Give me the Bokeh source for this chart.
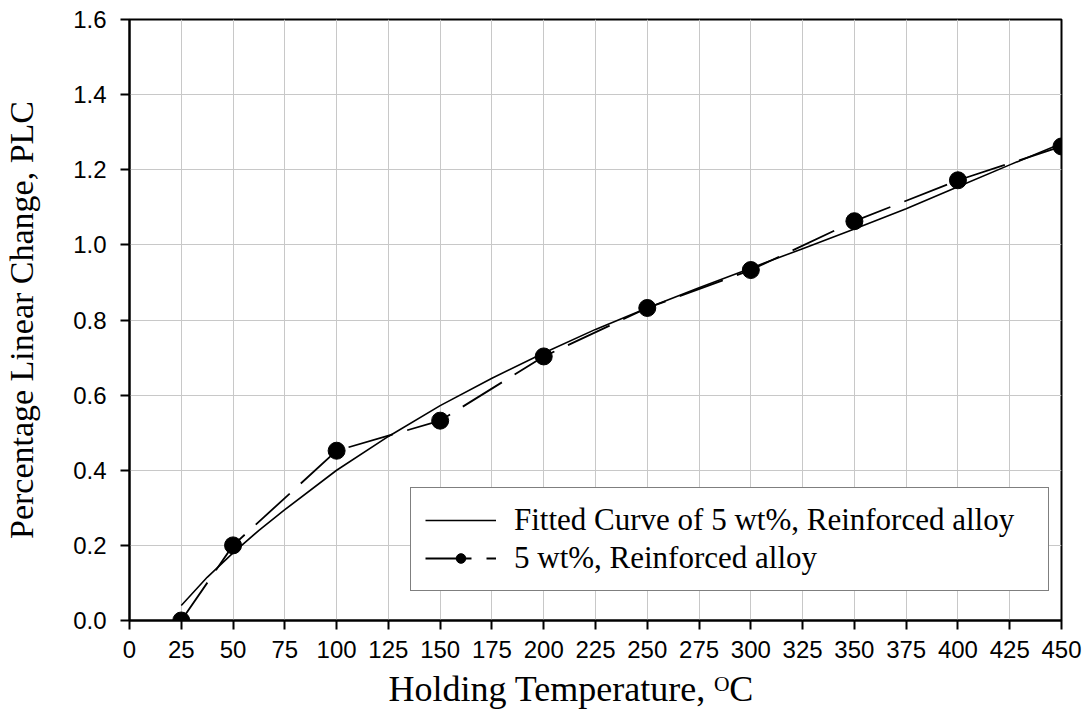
from bokeh.plotting import figure
from bokeh.models import (FixedTicker, Legend, LegendItem, Title, Range1d)
from bokeh.embed import file_html
from bokeh.resources import INLINE

# ---- data ----
temp_pts = [25, 50, 100, 150, 200, 250, 300, 350, 400, 450]
plc_pts = [0.0, 0.20, 0.452, 0.532, 0.703, 0.832, 0.933, 1.063, 1.172, 1.262]

fit_temp = [25, 37.5, 50, 62.5, 75, 100, 125, 150, 175, 200, 225, 250,
            275, 300, 325, 350, 375, 400, 425, 450]
fit_plc = [0.04, 0.115, 0.18, 0.24, 0.295, 0.40, 0.49, 0.572, 0.645, 0.712,
           0.775, 0.832, 0.886, 0.938, 0.990, 1.042, 1.096, 1.155, 1.213, 1.270]

x_ticks = [0, 25, 50, 75, 100, 125, 150, 175, 200, 225, 250, 275, 300, 325,
           350, 375, 400, 425, 450]
y_ticks = [0.0, 0.2, 0.4, 0.6, 0.8, 1.0, 1.2, 1.4, 1.6]
y_tick_labels = ["0.0", "0.2", "0.4", "0.6", "0.8", "1.0", "1.2", "1.4", "1.6"]

fit_label = "Fitted Curve of 5 wt%, Reinforced alloy"
data_label = "5 wt%, Reinforced alloy"
x_title = "Holding Temperature, \u1D3CC"
y_title = "Percentage Linear Change, PLC"

SERIF = "Liberation Serif"
SANS = "Liberation Sans"

p = figure(width=1088, height=719, output_backend="svg", toolbar_location=None,
           x_range=Range1d(0, 450), y_range=Range1d(0, 1.6),
           min_border_left=126, min_border_right=27, min_border_top=19,
           min_border_bottom=99)
p.background_fill_color = "white"
p.border_fill_color = "white"
p.outline_line_color = "black"
p.outline_line_width = 2

# grid
p.xgrid.ticker = FixedTicker(ticks=x_ticks)
p.ygrid.ticker = FixedTicker(ticks=y_ticks)
for g in (p.xgrid, p.ygrid):
    g.grid_line_color = "#c8c8c8"
    g.grid_line_width = 1

# axes
p.xaxis.ticker = FixedTicker(ticks=x_ticks)
p.yaxis.ticker = FixedTicker(ticks=y_ticks)
p.yaxis.major_label_overrides = {t: l for t, l in zip(y_ticks, y_tick_labels)}
for ax in (p.xaxis, p.yaxis):
    ax.axis_line_width = 2
    ax.axis_line_color = "black"
    ax.major_tick_line_width = 2
    ax.major_tick_line_color = "black"
    ax.major_tick_out = 9
    ax.major_tick_in = 0
    ax.minor_tick_line_color = None
    ax.major_label_text_font = SANS
    ax.major_label_text_font_size = "24px"
    ax.major_label_text_color = "black"
    ax.major_label_standoff = 11
p.yaxis.major_label_standoff = 14

p.yaxis.axis_label = y_title
p.yaxis.axis_label_text_font = SERIF
p.yaxis.axis_label_text_font_size = "34px"
p.yaxis.axis_label_text_font_style = "normal"
p.yaxis.axis_label_text_color = "black"
p.yaxis.axis_label_standoff = 30

# x title as a below-panel title so it can be offset like the reference
p.add_layout(Title(text=x_title, align="left", offset=259, text_font=SERIF,
                   text_font_size="36px", text_font_style="normal",
                   text_color="black", standoff=13), "below")

# series
fit_r = p.line(fit_temp, fit_plc, line_color="black", line_width=1.6)
dash_r = p.line(temp_pts, plc_pts, line_color="black", line_width=1.8,
                line_dash="46 15")
dot_r = p.scatter(temp_pts, plc_pts, size=17, marker="circle",
                  fill_color="black", line_color="black")

legend = Legend(items=[LegendItem(label=fit_label, renderers=[fit_r]),
                       LegendItem(label=data_label, renderers=[dash_r, dot_r])],
                location=(281, 29), orientation="vertical")
legend.label_text_font = SERIF
legend.label_text_font_size = "31px"
legend.label_text_color = "black"
legend.glyph_width = 71
legend.glyph_height = 24
legend.label_standoff = 18
legend.label_width = 520
legend.padding = 14
legend.margin = 0
legend.spacing = 2
legend.border_line_color = "black"
legend.border_line_width = 1.5
legend.background_fill_color = "white"
legend.background_fill_alpha = 1.0
p.add_layout(legend, "center")

open("out.html", "w").write(file_html(p, INLINE))
